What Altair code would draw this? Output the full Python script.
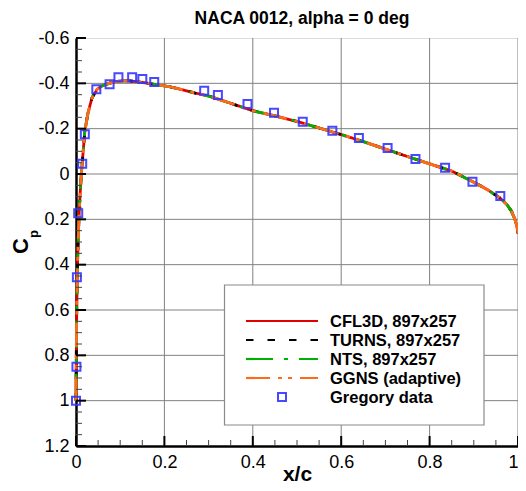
import altair as alt
import pandas as pd

# ---------------- data ----------------
x_cfd = [0.0, 0.0004, 0.001, 0.002, 0.003, 0.0045, 0.0065, 0.009, 0.012, 0.015,
         0.02, 0.027, 0.036, 0.048, 0.06, 0.075, 0.09, 0.105, 0.12, 0.14, 0.16,
         0.185, 0.21, 0.24, 0.27, 0.3, 0.35, 0.4, 0.45, 0.5, 0.55, 0.6, 0.65,
         0.7, 0.75, 0.8, 0.85, 0.9, 0.93, 0.96, 0.975, 0.985, 0.993, 0.998, 1.0]
cp_cfd = [1.0, 0.88, 0.72, 0.55, 0.44, 0.32, 0.2, 0.1, 0.0, -0.07,
          -0.19, -0.268, -0.335, -0.374, -0.39, -0.40, -0.408, -0.411, -0.411, -0.407, -0.401,
          -0.393, -0.386, -0.372, -0.357, -0.344, -0.312, -0.279, -0.256, -0.232, -0.203, -0.174, -0.143,
          -0.11, -0.077, -0.045, -0.013, 0.036, 0.068, 0.107, 0.135, 0.163, 0.2, 0.235, 0.262]

series_names = ["CFL3D, 897x257", "TURNS, 897x257", "NTS, 897x257", "GGNS (adaptive)"]
series_colors = ["#e00000", "#000000", "#00b000", "#ff6a1a"]
series_dashes = [[1, 0], [7.5, 14], [27, 11, 4, 11], [24, 8, 4, 6, 4, 8]]

x_exp = [0.0, 0.001, 0.002, 0.005, 0.014, 0.020, 0.046, 0.076, 0.096, 0.127, 0.150, 0.177,
         0.290, 0.321, 0.388, 0.448, 0.513, 0.580, 0.640, 0.705, 0.768, 0.835, 0.897, 0.960]
cp_exp = [1.0, 0.85, 0.456, 0.173, -0.045, -0.175, -0.374, -0.396, -0.427, -0.427, -0.419, -0.406,
          -0.367, -0.348, -0.309, -0.270, -0.231, -0.191, -0.159, -0.115, -0.066, -0.028, 0.034, 0.097]
exp_name = "Gregory data"

x_major = [0, 0.2, 0.4, 0.6, 0.8, 1]
x_minor = [0.05, 0.1, 0.15, 0.25, 0.3, 0.35, 0.45, 0.5, 0.55, 0.65, 0.7, 0.75, 0.85, 0.9, 0.95]
y_major = [-0.6, -0.4, -0.2, 0, 0.2, 0.4, 0.6, 0.8, 1, 1.2]
y_minor = [-0.55, -0.5, -0.45, -0.35, -0.3, -0.25, -0.15, -0.1, -0.05, 0.05, 0.1, 0.15,
           0.25, 0.3, 0.35, 0.45, 0.5, 0.55, 0.65, 0.7, 0.75, 0.85, 0.9, 0.95, 1.05, 1.1, 1.15]
x_grid = [0.2, 0.4, 0.6, 0.8, 1]
y_grid = [-0.4, -0.2, 0, 0.2, 0.4, 0.6, 0.8, 1]

# ---------------- layout ----------------
W, H = 442, 408
PAD_L = 68
FONT = "Liberation Sans"

xscale = alt.Scale(domain=[0, 1], nice=False, zero=False)
yscale = alt.Scale(domain=[-0.6, 1.2], nice=False, zero=False, reverse=True)

xaxis = alt.Axis(values=x_major, labelExpr="toString(datum.value)", grid=False, ticks=False,
                 tickSize=0, domainColor="black", domainWidth=2.5, labelFont=FONT,
                 labelFontSize=18, labelColor="black", labelBaseline="alphabetic",
                 labelAlign={"condition": {"test": "datum.value == 1", "value": "right"},
                             "value": "center"},
                 labelPadding=21, labelFlush=False, labelOverlap=False,
                 title="x/c", titleFont=FONT, titleFontSize=21, titleFontWeight="bold",
                 titleColor="black", titleBaseline="alphabetic", titleY=34)
yaxis = alt.Axis(values=y_major, labelExpr="toString(datum.value)", grid=False, ticks=False,
                 tickSize=0, domainColor="black", domainWidth=2.5, labelFont=FONT,
                 labelFontSize=18, labelColor="black", labelPadding=7, labelFlush=False,
                 labelOverlap=False, labelBaseline="middle", title=None)


def X(field="x"):
    return alt.X(f"{field}:Q", scale=xscale, axis=xaxis)


def Y(field="cp"):
    return alt.Y(f"{field}:Q", scale=yscale, axis=yaxis)


def ax(px):
    """absolute page x (reference pixels) -> plot-relative x"""
    return px - 8 - PAD_L


layers = []

# grid lines
layers.append(alt.Chart(pd.DataFrame({"x": x_grid})).mark_rule(color="#808080", strokeWidth=1)
              .encode(x=X()))
layers.append(alt.Chart(pd.DataFrame({"cp": y_grid})).mark_rule(color="#808080", strokeWidth=1)
              .encode(y=Y()))

# CFD curves
for name, col, dash in zip(series_names, series_colors, series_dashes):
    df = pd.DataFrame({"x": x_cfd, "cp": cp_cfd, "series": name})
    layers.append(alt.Chart(df).mark_line(color=col, strokeWidth=2.8, strokeDash=dash)
                  .encode(x=X(), y=Y(), order="x:Q"))

# experimental data
df_exp = pd.DataFrame({"x": x_exp, "cp": cp_exp, "series": exp_name})
layers.append(alt.Chart(df_exp).mark_point(shape="square", filled=False, color="#3535ff",
                                           size=64, strokeWidth=2, opacity=0.9)
              .encode(x=X(), y=Y()))

# inward ticks
layers.append(alt.Chart(pd.DataFrame({"x": x_major})).mark_rule(color="black", strokeWidth=2)
              .encode(x=X(), y=alt.value(H), y2=alt.value(H - 10)))
layers.append(alt.Chart(pd.DataFrame({"x": x_minor})).mark_rule(color="#444444", strokeWidth=1)
              .encode(x=X(), y=alt.value(H), y2=alt.value(H - 6)))
layers.append(alt.Chart(pd.DataFrame({"cp": y_major})).mark_rule(color="black", strokeWidth=2)
              .encode(y=Y(), x=alt.value(0), x2=alt.value(10)))
layers.append(alt.Chart(pd.DataFrame({"cp": y_minor})).mark_rule(color="#444444", strokeWidth=1)
              .encode(y=Y(), x=alt.value(0), x2=alt.value(6)))

# legend (manual)
dummy = pd.DataFrame({"d": [0]})
layers.append(alt.Chart(dummy).mark_rect(fill="white", stroke="#8a8a8a", strokeWidth=1.2)
              .encode(x=alt.value(ax(224.5)), x2=alt.value(ax(484)),
                      y=alt.value(247), y2=alt.value(387)))
row_y = [283, 302, 321, 340, 359]
for ry, name, col, dash in zip(row_y, series_names, series_colors, series_dashes):
    layers.append(alt.Chart(dummy).mark_rule(color=col, strokeWidth=2.2, strokeDash=dash)
                  .encode(x=alt.value(ax(246)), x2=alt.value(ax(318)), y=alt.value(ry)))
layers.append(alt.Chart(dummy).mark_point(shape="square", filled=False, color="#3535ff",
                                          size=64, strokeWidth=2, opacity=0.9)
              .encode(x=alt.value(ax(282)), y=alt.value(row_y[4])))
for ry, name in zip(row_y, series_names + [exp_name]):
    layers.append(alt.Chart(pd.DataFrame({"label": [name]}))
                  .mark_text(align="left", baseline="middle", font=FONT, fontSize=16.5,
                             fontWeight="bold", color="black")
                  .encode(text="label:N", x=alt.value(ax(330)), y=alt.value(ry + 1)))

# title and y-axis title (C with subscript p)
layers.append(alt.Chart(pd.DataFrame({"t": ["NACA 0012, alpha = 0 deg"]}))
              .mark_text(align="center", baseline="alphabetic", font=FONT, fontSize=17.5,
                         fontWeight="bold", color="black")
              .encode(text="t:N", x=alt.value(ax(302)), y=alt.value(-14)))
layers.append(alt.Chart(pd.DataFrame({"t": ["C"]}))
              .mark_text(align="center", baseline="middle", font=FONT, fontSize=22,
                         fontWeight="bold", color="black", angle=270)
              .encode(text="t:N", x=alt.value(ax(21)), y=alt.value(208)))
layers.append(alt.Chart(pd.DataFrame({"t": ["p"]}))
              .mark_text(align="center", baseline="middle", font=FONT, fontSize=13,
                         fontWeight="bold", color="black", angle=270)
              .encode(text="t:N", x=alt.value(ax(34)), y=alt.value(196)))

chart = (alt.layer(*layers)
         .properties(width=W, height=H,
                     padding={"left": PAD_L, "top": 30, "right": 0, "bottom": 37},
                     autosize=alt.AutoSizeParams(type="none"))
         .configure_view(stroke=None)
         .configure(background="white"))

chart.save("out.html", embed_options={"renderer": "svg", "actions": False})
